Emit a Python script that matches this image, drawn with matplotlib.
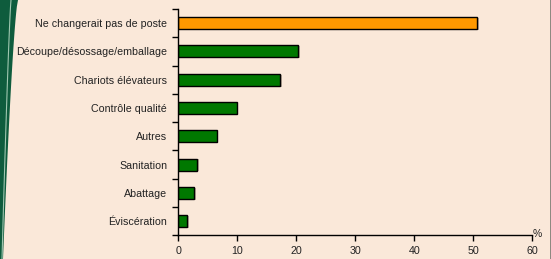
import numpy as np
import matplotlib
matplotlib.use('Agg')
import matplotlib.pyplot as plt
from matplotlib.patches import Polygon

# Data
categories = ['Ne changerait pas de poste', 'Découpe/désossage/emballage', 'Chariots élévateurs',
              'Contrôle qualité', 'Autres', 'Sanitation', 'Abattage', 'Éviscération']
values = [50.7, 20.3, 17.3, 9.9, 6.5, 3.2, 2.7, 1.5]
bar_colors = ['#FF9900'] + ['#007800'] * 7
x_ticks = [0, 10, 20, 30, 40, 50, 60]

plt.rcParams['font.family'] = ['Liberation Sans', 'DejaVu Sans']
BG = '#FAE8D9'
TXT = '#222222'

fig = plt.figure(figsize=(5.51, 2.59), dpi=100)
fig.patch.set_facecolor(BG)

# green swirl on the left edge (decoration, figure coords)
W, H = 551.0, 259.0
t = np.linspace(0, 1, 40)
xs_r = (18 - 15 * t ** 0.7) / W
ys = 1 - t
swirl = Polygon(np.column_stack([np.r_[0, xs_r, 0], np.r_[1, ys, 0]]), closed=True,
                transform=fig.transFigure, facecolor='#0E5C3D', edgecolor='none')
fig.patches.append(swirl)
fig.lines.append(plt.Line2D((11 - 9 * t ** 0.8) / W, ys, transform=fig.transFigure,
                            color='#9FC7B0', lw=0.8))

ax = fig.add_axes([178.3 / W, 1 - 235.3 / H, (532.3 - 178.3) / W, (235.3 - 9) / H])
ax.set_facecolor('none')

y = np.arange(len(categories))
# shadow then bars
ax.barh(y + 0.03, values, left=0.25, height=0.42, color='#8a7a6a', alpha=0.5, zorder=1)
ax.barh(y, values, height=0.42, color=bar_colors, edgecolor='black', linewidth=1.0, zorder=2)

ax.set_xlim(0, 60)
ax.set_ylim(len(categories) - 0.5, -0.5)
ax.set_xticks(x_ticks)
ax.tick_params(axis='x', direction='out', length=4, width=1, labelsize=7.7, pad=4,
               colors='black', labelcolor=TXT)

ax.set_yticks(y)
ax.set_yticklabels(categories, fontsize=7.7, color=TXT)
ax.tick_params(axis='y', which='major', length=0, pad=8)
ax.set_yticks(np.arange(-0.5, len(categories)), minor=True)
ax.tick_params(axis='y', which='minor', direction='out', length=4, width=1)

for s in ['top', 'right']:
    ax.spines[s].set_visible(False)
for s in ['left', 'bottom']:
    ax.spines[s].set_linewidth(1.0)

ax.text(60.8, 7.62, '%', fontsize=7.5, ha='center', va='bottom', color=TXT)

fig.lines.append(plt.Line2D([550.5 / W, 550.5 / W], [0, 1], transform=fig.transFigure,
                            color='#7a7670', lw=1.2))

plt.savefig('out.png', dpi=100, facecolor=fig.get_facecolor())
